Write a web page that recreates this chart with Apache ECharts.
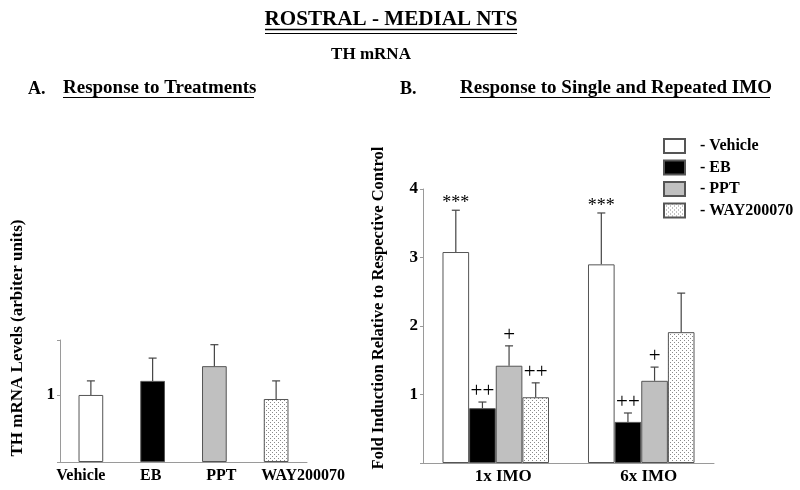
<!DOCTYPE html>
<html><head><meta charset="utf-8">
<script src="https://cdn.jsdelivr.net/npm/echarts@6/dist/echarts.min.js"></script>
<style>html,body{margin:0;padding:0;background:#fff}#c{width:800px;height:490px}</style>
</head><body><div id="c"></div>
<script>
// ---- Panel A data ----
const treatCats = ['Vehicle', 'EB', 'PPT', 'WAY200070'];
const treatMeans = [1.00, 1.21, 1.43, 0.94];
const treatErr = [0.21, 0.34, 0.32, 0.27];
const treatTicks = [1];

// ---- Panel B data ----
const imoCats = ['1x IMO', '6x IMO'];
const seriesNames = ['Vehicle', 'EB', 'PPT', 'WAY200070'];
const vehicleMeans = [3.08, 2.90];
const vehicleErr = [0.61, 0.75];
const vehicleSig = ['***', '***'];
const ebMeans = [0.80, 0.60];
const ebErr = [0.09, 0.13];
const ebSig = ['++', '++'];
const pptMeans = [1.42, 1.20];
const pptErr = [0.29, 0.20];
const pptSig = ['+', '+'];
const wayMeans = [0.96, 1.91];
const wayErr = [0.21, 0.57];
const waySig = ['++', ''];
const imoTicks = [1, 2, 3, 4];

const FONT = '"Liberation Serif", "DejaVu Serif", serif';

function dotPattern() {
  const c = document.createElement('canvas');
  c.width = 4; c.height = 4;
  const g = c.getContext('2d');
  g.fillStyle = '#ffffff'; g.fillRect(0, 0, 4, 4);
  g.fillStyle = '#8a8a8a';
  g.fillRect(0, 0, 1, 1);
  g.fillRect(2, 2, 1, 1);
  return { image: c, repeat: 'repeat' };
}
const pattern = dotPattern();
const fills = ['#ffffff', '#000000', '#c0c0c0', pattern];
const BORDER = '#555555';
const ERRC = '#444444';

const groups = [
  { means: vehicleMeans, err: vehicleErr, sig: vehicleSig },
  { means: ebMeans, err: ebErr, sig: ebSig },
  { means: pptMeans, err: pptErr, sig: pptSig },
  { means: wayMeans, err: wayErr, sig: waySig }
];
const BW = 0.183;

function errShape(x, y0, y1, txt) {
  const ch = [
    { type: 'line', shape: { x1: x, y1: y0, x2: x, y2: y1 }, style: { stroke: ERRC, lineWidth: 1.2 } },
    { type: 'line', shape: { x1: x - 4, y1: y1, x2: x + 4, y2: y1 }, style: { stroke: ERRC, lineWidth: 1.2 } }
  ];
  if (txt) {
    const plus = txt.indexOf('+') >= 0;
    ch.push({ type: 'text', style: { text: txt, x: x, y: y1 - (plus ? 0 : -2), textAlign: 'center', textVerticalAlign: 'bottom',
      font: (plus ? '21px ' : '18px ') + FONT, fill: '#000' } });
  }
  return { type: 'group', children: ch };
}

const series = [];
series.push({
  type: 'bar', xAxisIndex: 0, yAxisIndex: 0, barWidth: '40%',
  data: treatMeans.map((v, i) => ({ value: v, itemStyle: { color: fills[i], borderColor: BORDER, borderWidth: 1 } })),
  silent: true
});
series.push({
  type: 'custom', xAxisIndex: 0, yAxisIndex: 0, z: 5,
  data: treatMeans.map((v, i) => [i, v, treatErr[i]]),
  renderItem: function (params, api) {
    const p0 = api.coord([api.value(0), api.value(1)]);
    const p1 = api.coord([api.value(0), api.value(1) + api.value(2)]);
    return errShape(p0[0], p0[1], p1[1], '');
  }
});
groups.forEach((g, si) => {
  series.push({
    name: seriesNames[si], type: 'bar', xAxisIndex: 1, yAxisIndex: 1,
    barWidth: (BW * 100) + '%', barGap: '0%',
    itemStyle: { color: fills[si], borderColor: BORDER, borderWidth: 1 },
    data: g.means
  });
});
groups.forEach((g, si) => {
  series.push({
    type: 'custom', xAxisIndex: 1, yAxisIndex: 1, z: 5,
    data: g.means.map((v, i) => [i, v, g.err[i]]),
    renderItem: function (params, api) {
      const band = api.size([1, 0])[0];
      const off = (si - 1.5) * band * BW;
      const p0 = api.coord([api.value(0), api.value(1)]);
      const p1 = api.coord([api.value(0), api.value(1) + api.value(2)]);
      return errShape(p0[0] + off, p0[1], p1[1], g.sig[params.dataIndex]);
    }
  });
});

const axisLine = { show: true, lineStyle: { color: '#9a9a9a', width: 1 } };
const labelStyle = { fontFamily: FONT, fontWeight: 'bold', color: '#000' };
const richA = {
  c0: { padding: [0, 20, 0, 0] }, c1: { padding: [0, 4, 0, 0] },
  c2: { padding: [0, 0, 0, 14] }, c3: { padding: [0, 0, 0, 54] }
};
Object.keys(richA).forEach(k => Object.assign(richA[k], labelStyle, { fontSize: 16 }));
const richB = { c: Object.assign({ padding: [0, 0, 0, 15], fontSize: 17 }, labelStyle) };

const chart = echarts.init(document.getElementById('c'), null, { renderer: 'canvas' });
chart.setOption({
  animation: false,
  backgroundColor: '#fff',
  grid: [
    { left: 60, top: 340, width: 247, height: 122 },
    { left: 423, top: 189, width: 291, height: 274 }
  ],
  xAxis: [
    { type: 'category', gridIndex: 0, data: treatCats, axisLine: axisLine, axisTick: { show: false },
      axisLabel: Object.assign({ fontSize: 16, margin: 6, interval: 0,
        formatter: (v, i) => '{c' + i + '|' + v + '}', rich: richA }, labelStyle) },
    { type: 'category', gridIndex: 1, data: imoCats, axisLine: axisLine, axisTick: { show: false },
      axisLabel: Object.assign({ fontSize: 17, margin: 5, interval: 0,
        formatter: v => '{c|' + v + '}', rich: richB }, labelStyle) }
  ],
  yAxis: [
    { type: 'value', gridIndex: 0, min: 0, max: 1.82, interval: 1, splitLine: { show: false },
      axisLine: axisLine, axisTick: { show: true, length: 3, lineStyle: { color: '#9a9a9a' } },
      axisLabel: Object.assign({ fontSize: 17, margin: 5, formatter: v => treatTicks.indexOf(v) >= 0 ? String(v) : '' }, labelStyle) },
    { type: 'value', gridIndex: 1, min: 0, max: 4, interval: 1, splitLine: { show: false },
      axisLine: axisLine, axisTick: { show: true, length: 3, lineStyle: { color: '#9a9a9a' } },
      axisLabel: Object.assign({ fontSize: 17, margin: 5, formatter: v => imoTicks.indexOf(v) >= 0 ? String(v) : '' }, labelStyle) }
  ],
  legend: {
    orient: 'vertical', left: 663, top: 138, padding: 0, itemWidth: 21, itemHeight: 14, itemGap: 5.5,
    icon: 'rect', data: seriesNames,
    formatter: n => '- ' + n,
    textStyle: { fontFamily: FONT, fontWeight: 'bold', fontSize: 16, lineHeight: 16, color: '#000', padding: [0, 0, 0, 10] }
  },
  graphic: [
    { type: 'text', x: 391, y: 19.5, scaleX: 0.96, style: { text: 'ROSTRAL - MEDIAL NTS', font: 'bold 22px ' + FONT, fill: '#000', textAlign: 'center', textVerticalAlign: 'middle' } },
    { type: 'line', shape: { x1: 265, y1: 29.5, x2: 517, y2: 29.5 }, style: { stroke: '#000', lineWidth: 1.6 } },
    { type: 'line', shape: { x1: 265, y1: 33.5, x2: 517, y2: 33.5 }, style: { stroke: '#000', lineWidth: 1 } },
    { type: 'text', x: 371, y: 55, style: { text: 'TH mRNA', font: 'bold 17px ' + FONT, fill: '#000', textAlign: 'center', textVerticalAlign: 'middle' } },
    { type: 'text', x: 28, y: 89, style: { text: 'A.', font: 'bold 18px ' + FONT, fill: '#000', textVerticalAlign: 'middle' } },
    { type: 'text', x: 63, y: 88, style: { text: 'Response to Treatments', font: 'bold 19px ' + FONT, fill: '#000', textVerticalAlign: 'middle' } },
    { type: 'line', shape: { x1: 63, y1: 97.5, x2: 254, y2: 97.5 }, style: { stroke: '#000', lineWidth: 1.2 } },
    { type: 'text', x: 400, y: 89, style: { text: 'B.', font: 'bold 18px ' + FONT, fill: '#000', textVerticalAlign: 'middle' } },
    { type: 'text', x: 460, y: 88, style: { text: 'Response to Single and Repeated IMO', font: 'bold 19px ' + FONT, fill: '#000', textVerticalAlign: 'middle' } },
    { type: 'line', shape: { x1: 460, y1: 97.5, x2: 770, y2: 97.5 }, style: { stroke: '#000', lineWidth: 1.2 } },
    { type: 'text', x: 18, y: 338, rotation: Math.PI / 2, style: { text: 'TH mRNA Levels (arbiter units)', font: 'bold 17px ' + FONT, fill: '#000', textAlign: 'center', textVerticalAlign: 'middle' } },
    { type: 'text', x: 379, y: 308, rotation: Math.PI / 2, style: { text: 'Fold Induction Relative to Respective Control', font: 'bold 16.5px ' + FONT, fill: '#000', textAlign: 'center', textVerticalAlign: 'middle' } }
  ],
  series: series
});
</script></body></html>
